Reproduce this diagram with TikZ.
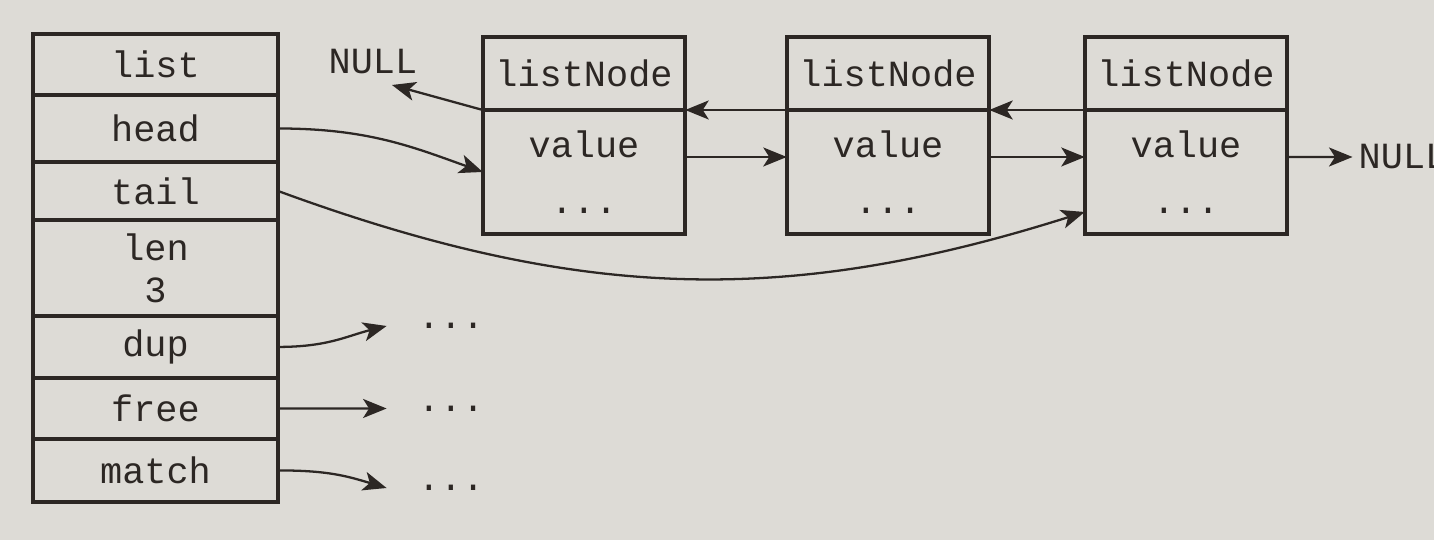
\documentclass[tikz,border=0pt]{standalone}
\usepackage{fontspec}
\setmonofont{Liberation Mono}
\usetikzlibrary{positioning,arrows.meta}
\definecolor{paper}{RGB}{221,219,214}
\definecolor{ink}{RGB}{44,39,36}

\begin{document}
\begin{tikzpicture}[x=0.02cm,y=-0.02cm,
  txt/.style={text=ink,font=\ttfamily\fontsize{21}{24}\selectfont},
  field/.style={txt,draw=ink,line width=2.3pt,outer sep=0pt,minimum width=4.9cm,align=center},
  cell/.style={txt,draw=ink,line width=2.3pt,outer sep=0pt,minimum width=4.05cm,align=center},
  ptr/.style={ink,line width=1.3pt,-{Stealth[length=0.47cm,width=0.38cm,inset=0.12cm]}}]
  \fill[paper] (0,0) rectangle (1434,540);
  \useasboundingbox (0,0) rectangle (1434,540);

  \node[field,minimum height=1.22cm] (list) at (155.5,64.5) {list};
  \node[field,minimum height=1.34cm,below=0pt of list] (head) {head};
  \node[field,minimum height=1.16cm,below=0pt of head] (tail) {tail};
  \node[field,minimum height=1.92cm,below=0pt of tail] (len) {len\\3};
  \node[field,minimum height=1.24cm,below=0pt of len] (dup) {dup};
  \node[field,minimum height=1.22cm,below=0pt of dup] (free) {free};
  \node[field,minimum height=1.26cm,below=0pt of free] (match) {match};

  \node[cell,minimum height=1.46cm] (n1h) at (584,73.5) {listNode};
  \node[cell,minimum height=2.48cm,below=0pt of n1h] (n1) {value\\[8pt]...};
  \node[cell,minimum height=1.46cm] (n2h) at (888,73.5) {listNode};
  \node[cell,minimum height=2.48cm,below=0pt of n2h] (n2) {value\\[8pt]...};
  \node[cell,minimum height=1.46cm] (n3h) at (1186,73.5) {listNode};
  \node[cell,minimum height=2.48cm,below=0pt of n3h] (n3) {value\\[8pt]...};

  \node[txt] (nullL) at (373,62) {NULL};
  \node[txt] (nullR) at (1403,157) {NULL};
  \coordinate (nullLtip) at (392,85);

  \node[txt] (dupv) at (451,326) {...};
  \node[txt] (freev) at (451,408.5) {...};
  \node[txt] (matchv) at (451,488) {...};

  \draw[ptr] (n1h.south west) -- (nullLtip);
  \draw[ptr] (n2h.south west) -- (n1h.south east);
  \draw[ptr] (n3h.south west) -- (n2h.south east);
  \draw[ptr] ([yshift=0.3cm]n1.east) -- ([yshift=0.3cm]n2.west);
  \draw[ptr] ([yshift=0.3cm]n2.east) -- ([yshift=0.3cm]n3.west);
  \draw[ptr] ([yshift=0.3cm]n3.east) -- (nullR.west);

  \draw[ptr] (head.east) .. controls +(90,0) and +(-70,-25) .. (n1.west);
  \draw[ptr] (tail.east) .. controls +(300,110) and +(-300,95) .. ([yshift=-0.8cm]n3.west);

  \draw[ptr] (dup.east) .. controls +(50,0) and +(-40,10) .. ([xshift=-0.5cm]dupv.west);
  \draw[ptr] (free.east) -- ([xshift=-0.5cm]freev.west);
  \draw[ptr] (match.east) .. controls +(50,0) and +(-40,-12) .. ([xshift=-0.5cm]matchv.west);
\end{tikzpicture}
\end{document}
